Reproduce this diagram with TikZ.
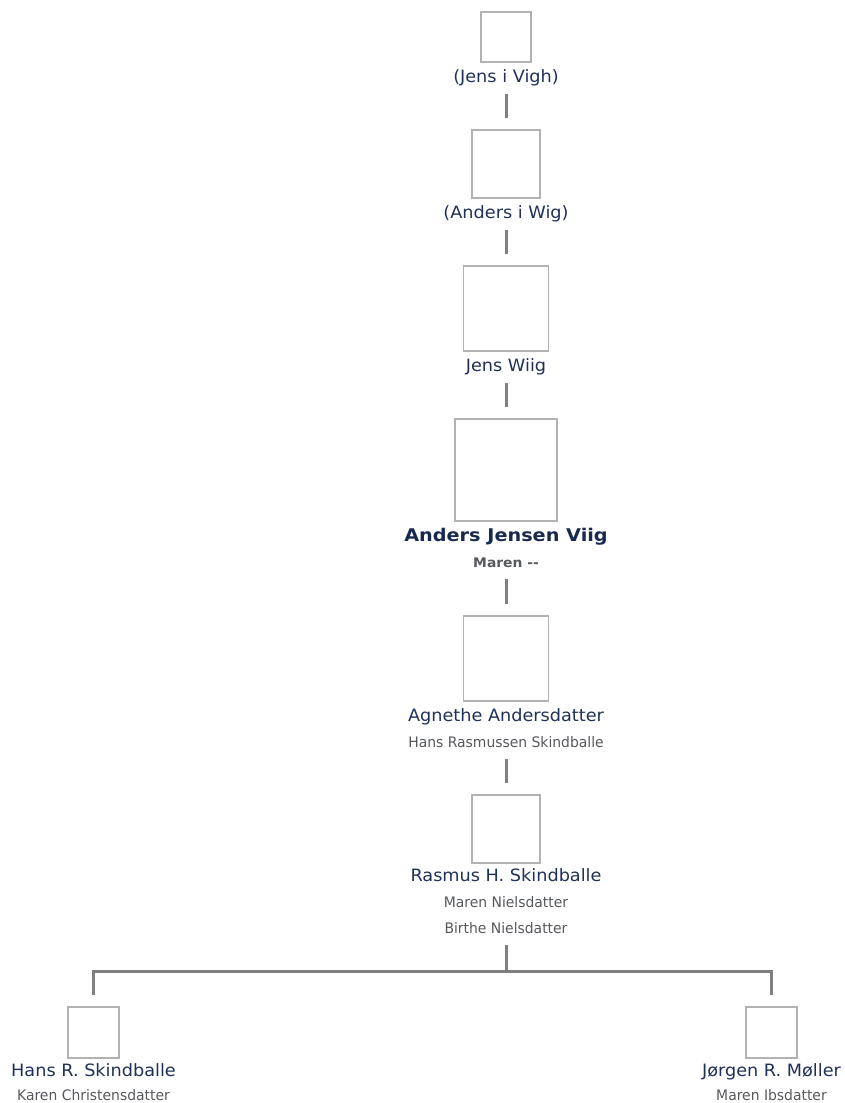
\documentclass[tikz,border=0pt]{standalone}
\usepackage{fontspec}
\setmainfont{DejaVu Sans}
\newfontfamily\nmfont{DejaVu Sans}[FakeStretch=1.04]
\newfontfamily\spfont{DejaVu Sans}[FakeStretch=0.96]
\newfontfamily\bdfont{DejaVu Sans Bold}[FakeStretch=1.1]
\newfontfamily\sbfont{DejaVu Sans Bold}[FakeStretch=1.05]
\definecolor{namec}{HTML}{1F3158}
\definecolor{boldc}{HTML}{17294D}
\definecolor{spc}{HTML}{55585C}
\definecolor{boxc}{HTML}{B2B2B2}
\definecolor{connc}{HTML}{808080}
\tikzset{
  pbox/.style={draw=boxc, line width=1.6pt, fill=white, inner sep=0pt, outer sep=0pt},
  pname/.style={anchor=base, inner sep=0pt, text=namec, font=\nmfont\fontsize{17}{19}\selectfont},
  pbold/.style={anchor=base, inner sep=0pt, text=boldc, font=\bdfont\fontsize{17.5}{19}\selectfont},
  pspouse/.style={anchor=base, inner sep=0pt, text=spc, font=\spfont\fontsize{14.5}{16}\selectfont},
  pspbold/.style={anchor=base, inner sep=0pt, text=spc, font=\sbfont\fontsize{13.2}{16}\selectfont},
  conn/.style={draw=connc, line width=3pt, line cap=butt, line join=miter}
}
\begin{document}
\begin{tikzpicture}[x=1pt,y=-1pt]
\useasboundingbox (0,0) rectangle (845,1103);
% generation 1
\node[pbox, minimum size=50pt] (b1) at (506,37) {};
\node[pname] (n1) at (506,82) {(Jens i Vigh)};
% generation 2
\node[pbox, minimum size=68pt] (b2) at (506,164) {};
\node[pname] (n2) at (506,218) {(Anders i Wig)};
% generation 3
\node[pbox, minimum size=85pt] (b3) at (506,308.5) {};
\node[pname] (n3) at (506,371) {Jens Wiig};
% generation 4
\node[pbox, minimum size=102pt] (b4) at (506,470) {};
\node[pbold] (n4) at (506,541) {Anders Jensen Viig};
\node[pspbold] (s4) at (506,567) {Maren --};
% generation 5
\node[pbox, minimum size=85pt] (b5) at (506,658.5) {};
\node[pname] (n5) at (506,721) {Agnethe Andersdatter};
\node[pspouse] (s5) at (506,747) {Hans Rasmussen Skindballe};
% generation 6
\node[pbox, minimum size=68pt] (b6) at (506,829) {};
\node[pname] (n6) at (506,881) {Rasmus H. Skindballe};
\node[pspouse] (s6a) at (506,907) {Maren Nielsdatter};
\node[pspouse] (s6b) at (506,933) {Birthe Nielsdatter};
% generation 7
\node[pbox, minimum size=51pt] (b7) at (93.5,1032.5) {};
\node[pname] (n7) at (93.5,1076) {Hans R. Skindballe};
\node[pspouse] (s7) at (93.5,1100) {Karen Christensdatter};
\node[pbox, minimum size=51pt] (b8) at (771.5,1032.5) {};
\node[pname] (n8) at (771.5,1076) {Jørgen R. Møller};
\node[pspouse] (s8) at (771.5,1100) {Maren Ibsdatter};
% connectors
\draw[conn] ([yshift=-12pt]n1.base) -- ([yshift=12pt]b2.north);
\draw[conn] ([yshift=-12pt]n2.base) -- ([yshift=12pt]b3.north);
\draw[conn] ([yshift=-12pt]n3.base) -- ([yshift=12pt]b4.north);
\draw[conn] ([yshift=-12pt]s4.base) -- ([yshift=12pt]b5.north);
\draw[conn] ([yshift=-12pt]s5.base) -- ([yshift=12pt]b6.north);
\coordinate (j) at (506,971);
\draw[conn] ([yshift=-12pt]s6b.base) -- (j);
\draw[conn] ([yshift=12pt]b7.north) |- (j) -| ([yshift=12pt]b8.north);
\end{tikzpicture}
\end{document}
